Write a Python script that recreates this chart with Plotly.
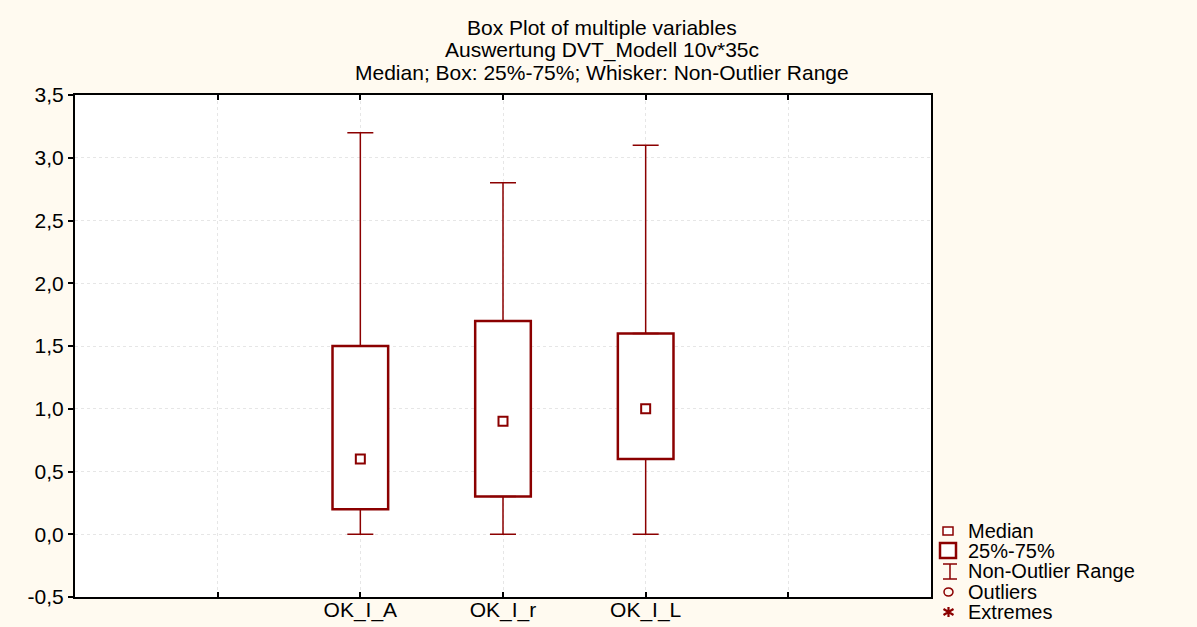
import plotly.graph_objects as go

# ---- data ----
categories = ["OK_I_A", "OK_I_r", "OK_I_L"]
cat_pos = [1, 2, 3]
whisker_low = [0.0, 0.0, 0.0]
q1 = [0.2, 0.3, 0.6]
median = [0.6, 0.9, 1.0]
q3 = [1.5, 1.7, 1.6]
whisker_high = [3.2, 2.8, 3.1]

y_ticks = [-0.5, 0.0, 0.5, 1.0, 1.5, 2.0, 2.5, 3.0, 3.5]
y_ticktext = ["-0,5", "0,0", "0,5", "1,0", "1,5", "2,0", "2,5", "3,0", "3,5"]

legend_labels = ["Median", "25%-75%", "Non-Outlier Range", "Outliers", "Extremes"]
title_lines = ["Box Plot of multiple variables",
               "Auswertung DVT_Modell 10v*35c",
               "Median; Box: 25%-75%; Whisker: Non-Outlier Range"]

# ---- style ----
RED = "#8B0000"
BG = "#FFFAF0"
FONT = "Liberation Sans, Arial, sans-serif"
W, H = 1197, 627
ML, MR, MT, MB = 75, 266, 95, 30
PW, PH = W - ML - MR, H - MT - MB


def px(xp):
    return (xp - ML) / PW


def py(yp):
    return (H - MB - yp) / PH


fig = go.Figure()

# boxes (25%-75%)
fig.add_trace(go.Bar(
    x=cat_pos, y=[b - a for a, b in zip(q1, q3)], base=q1, width=0.39,
    marker=dict(color="white", line=dict(color=RED, width=2.5)),
    hoverinfo="skip", showlegend=False))

# upper whiskers
fig.add_trace(go.Scatter(
    x=cat_pos, y=q3, mode="markers",
    marker=dict(size=1, color="rgba(0,0,0,0)"),
    error_y=dict(type="data", symmetric=False,
                 array=[h - b for b, h in zip(q3, whisker_high)],
                 arrayminus=[0] * len(q3),
                 color=RED, thickness=1.5, width=13),
    hoverinfo="skip", showlegend=False))

# lower whiskers
fig.add_trace(go.Scatter(
    x=cat_pos, y=q1, mode="markers",
    marker=dict(size=1, color="rgba(0,0,0,0)"),
    error_y=dict(type="data", symmetric=False,
                 array=[0] * len(q1),
                 arrayminus=[a - l for a, l in zip(q1, whisker_low)],
                 color=RED, thickness=1.5, width=13),
    hoverinfo="skip", showlegend=False))

# medians
fig.add_trace(go.Scatter(
    x=cat_pos, y=median, mode="markers",
    marker=dict(symbol="square", size=9, color="white",
                line=dict(color=RED, width=2)),
    hoverinfo="skip", showlegend=False))

axis_font = dict(family=FONT, size=21, color="black")

fig.update_layout(
    width=W, height=H, autosize=False,
    paper_bgcolor=BG, plot_bgcolor="white",
    margin=dict(l=ML, r=MR, t=MT, b=MB, pad=0, autoexpand=False),
    showlegend=False,
    xaxis=dict(range=[-1, 5], tickvals=[0, 1, 2, 3, 4],
               ticktext=[""] + categories + [""],
               ticks="inside", ticklen=5, tickcolor="black", tickwidth=1.5,
               showline=True, linecolor="black", linewidth=2,
               mirror="ticks", ticklabelstandoff=-7,
               showgrid=True, gridcolor="#E6E6E6", griddash="dot", gridwidth=1,
               zeroline=False, tickfont=axis_font, fixedrange=True),
    yaxis=dict(range=[-0.5, 3.5], tickvals=y_ticks, ticktext=y_ticktext,
               ticks="outside", ticklen=5, tickcolor="black", tickwidth=1.5,
               showline=True, linecolor="black", linewidth=2, mirror=True,
               showgrid=True, gridcolor="#E6E6E6", griddash="dot", gridwidth=1,
               zeroline=False, tickfont=axis_font, fixedrange=True),
    yaxis2=dict(range=[-0.5, 3.5], tickvals=y_ticks, overlaying="y",
                side="right", ticks="inside", ticklen=5, tickcolor="black",
                tickwidth=1.5, showticklabels=False, showgrid=False,
                zeroline=False, showline=False, fixedrange=True),
)

# ---- title (three centred lines) ----
for line, yy in zip(title_lines, [28, 50, 72]):
    fig.add_annotation(text=line, xref="paper", yref="paper",
                       x=px(602), y=py(yy), xanchor="center", yanchor="middle",
                       showarrow=False,
                       font=dict(family=FONT, size=21, color="black"))

# ---- hand-drawn legend (as in the original) ----
shapes = []
shapes.append(dict(type="rect", xref="paper", yref="paper",
                   x0=px(943), x1=px(953), y0=py(527), y1=py(535),
                   line=dict(color=RED, width=1.5), fillcolor="white"))
shapes.append(dict(type="rect", xref="paper", yref="paper",
                   x0=px(940), x1=px(956), y0=py(543), y1=py(558),
                   line=dict(color=RED, width=2.5), fillcolor="white"))
wp = (f"M {px(943)} {py(564)} L {px(957)} {py(564)} "
      f"M {px(950)} {py(564)} L {px(950)} {py(579)} "
      f"M {px(943)} {py(579)} L {px(957)} {py(579)}")
shapes.append(dict(type="path", xref="paper", yref="paper", path=wp,
                   line=dict(color=RED, width=1.5)))
shapes.append(dict(type="circle", xref="paper", yref="paper",
                   x0=px(944), x1=px(953), y0=py(588), y1=py(596),
                   line=dict(color=RED, width=1.5)))
cx, cy, r = 948.5, 612, 5
ap = (f"M {px(cx)} {py(cy - r)} L {px(cx)} {py(cy + r)} "
      f"M {px(cx - r)} {py(cy - r * 0.6)} L {px(cx + r)} {py(cy + r * 0.6)} "
      f"M {px(cx - r)} {py(cy + r * 0.6)} L {px(cx + r)} {py(cy - r * 0.6)}")
shapes.append(dict(type="path", xref="paper", yref="paper", path=ap,
                   line=dict(color=RED, width=2.2)))
fig.update_layout(shapes=shapes)

legend_y = [531, 551, 571, 592, 612]
for lab, yy in zip(legend_labels, legend_y):
    fig.add_annotation(text=lab, xref="paper", yref="paper",
                       x=px(966), y=py(yy), xanchor="left", yanchor="middle",
                       showarrow=False,
                       font=dict(family=FONT, size=20, color="black"))

fig.write_html(
    "out.html",
    config={"displayModeBar": False},
    post_script="document.body.style.margin='0';"
                "document.body.style.overflow='hidden';",
)
